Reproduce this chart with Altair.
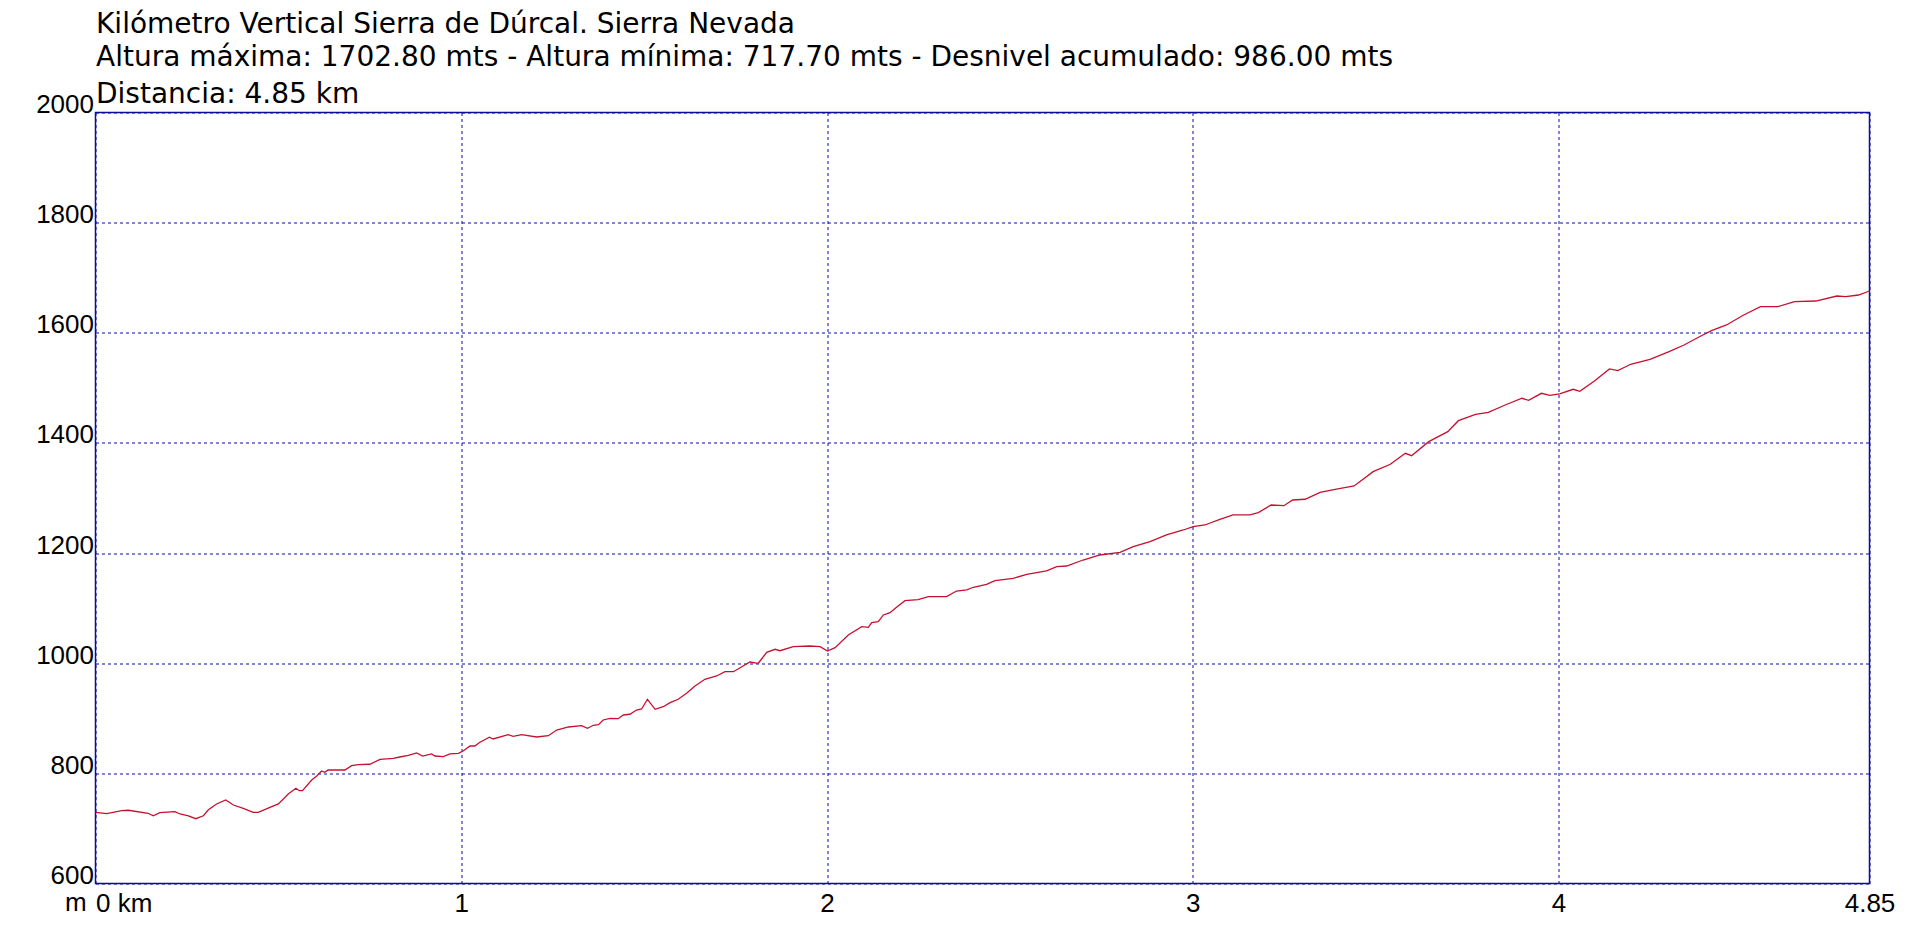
import altair as alt
import pandas as pd

TITLE_LINES = [
    "Kilómetro Vertical Sierra de Dúrcal. Sierra Nevada",
    "Altura máxima: 1702.80 mts - Altura mínima: 717.70 mts - Desnivel acumulado: 986.00 mts",
    "Distancia: 4.85 km",
]
Y_UNIT = "m"
X_TICKS = [0, 1, 2, 3, 4, 4.85]
Y_TICKS = [600, 800, 1000, 1200, 1400, 1600, 1800, 2000]

DIST_KM = [
    0.000, 0.031, 0.072, 0.090, 0.144, 0.158, 0.176, 0.217, 0.231, 0.254,
    0.274, 0.295, 0.308, 0.331, 0.356, 0.377, 0.404, 0.431, 0.445, 0.477,
    0.500, 0.527, 0.548, 0.557, 0.566, 0.591, 0.605, 0.618, 0.627, 0.636,
    0.682, 0.700, 0.718, 0.750, 0.778, 0.814, 0.832, 0.855, 0.878, 0.894,
    0.919, 0.928, 0.951, 0.969, 0.992, 1.005, 1.024, 1.037, 1.051, 1.077,
    1.087, 1.128, 1.142, 1.165, 1.206, 1.238, 1.261, 1.293, 1.329, 1.345,
    1.361, 1.375, 1.388, 1.407, 1.429, 1.443, 1.461, 1.479, 1.493, 1.509,
    1.530, 1.552, 1.571, 1.593, 1.616, 1.639, 1.666, 1.698, 1.721, 1.744,
    1.767, 1.789, 1.812, 1.835, 1.858, 1.871, 1.908, 1.953, 1.981, 2.001,
    2.022, 2.058, 2.095, 2.113, 2.122, 2.140, 2.154, 2.172, 2.190, 2.213,
    2.249, 2.277, 2.327, 2.354, 2.382, 2.400, 2.436, 2.459, 2.509, 2.546,
    2.600, 2.628, 2.655, 2.700, 2.746, 2.801, 2.837, 2.883, 2.928, 2.974,
    3.001, 3.033, 3.074, 3.110, 3.156, 3.179, 3.214, 3.249, 3.273, 3.307,
    3.348, 3.389, 3.441, 3.493, 3.540, 3.581, 3.598, 3.645, 3.697, 3.726,
    3.773, 3.808, 3.854, 3.900, 3.918, 3.953, 3.976, 4.003, 4.040, 4.058,
    4.098, 4.139, 4.162, 4.197, 4.250, 4.302, 4.343, 4.389, 4.418, 4.459,
    4.506, 4.552, 4.599, 4.645, 4.703, 4.761, 4.785, 4.820, 4.850,
]
ELEV_M = [
    729.3, 726.8, 732.2, 733.0, 727.5, 723.0, 728.6, 730.4, 726.2, 722.6,
    717.7, 723.0, 733.5, 744.4, 751.6, 742.5, 736.5, 729.3, 729.3, 738.4,
    744.4, 762.5, 772.9, 768.5, 768.5, 787.9, 795.2, 804.3, 801.9, 806.1,
    806.1, 813.9, 815.7, 816.5, 825.5, 827.3, 829.7, 832.8, 837.0, 831.5,
    835.2, 831.5, 830.3, 835.2, 836.4, 840.6, 849.7, 849.7, 856.4, 865.5,
    862.4, 870.2, 867.3, 870.2, 866.0, 868.4, 878.7, 884.2, 886.5, 881.8,
    887.3, 888.4, 896.9, 900.0, 899.3, 906.0, 907.3, 915.0, 916.9, 934.5,
    916.3, 921.0, 928.3, 934.5, 945.4, 958.6, 970.8, 976.8, 984.6, 984.6,
    993.7, 1002.2, 999.9, 1019.8, 1025.3, 1022.7, 1030.0, 1031.3, 1030.0, 1022.2,
    1028.2, 1051.2, 1066.3, 1065.2, 1073.6, 1075.4, 1087.6, 1091.7, 1101.5, 1113.5,
    1115.3, 1120.8, 1120.8, 1131.1, 1133.0, 1137.9, 1143.3, 1149.9, 1154.2, 1161.5,
    1167.5, 1175.3, 1176.5, 1187.4, 1196.5, 1201.4, 1211.6, 1220.7, 1232.9, 1241.9,
    1248.0, 1251.0, 1261.3, 1269.2, 1269.2, 1273.4, 1287.3, 1286.0, 1296.4, 1297.7,
    1310.3, 1315.8, 1321.8, 1347.8, 1361.2, 1381.2, 1376.8, 1402.3, 1420.4, 1440.4,
    1452.0, 1455.6, 1468.9, 1481.1, 1477.4, 1490.1, 1486.5, 1488.9, 1497.4, 1493.8,
    1512.5, 1534.3, 1531.2, 1542.8, 1551.9, 1565.7, 1577.8, 1594.2, 1603.8, 1614.2,
    1632.3, 1647.4, 1647.4, 1656.5, 1657.7, 1666.8, 1665.6, 1668.6, 1675.9,
]

FONT = "Liberation Sans"
TITLE_FONT = "DejaVu Sans"
GRID = "#0a0aa8"
BORDER = "#0c0c96"
LINE = "#c8102e"

df = pd.DataFrame({"dist": DIST_KM, "elev": ELEV_M})

x_axis = alt.Axis(
    values=X_TICKS,
    title=None,
    grid=True,
    gridColor=GRID,
    gridDash=[3, 3],
    gridWidth=1,
    gridOpacity=1,
    ticks=False,
    tickSize=0,
    domain=False,
    labelFlush=False,
    labelOverlap=False,
    labelFont=FONT,
    labelFontSize=26,
    labelColor="#000000",
    labelBaseline="top",
    labelPadding=7,
    labelAlign=alt.expr("datum.value == 0 ? 'left' : 'center'"),
    labelExpr="datum.value == 0 ? '0 km' : (datum.value == 4.85 ? '4.85' : format(datum.value, 'd'))",
)
y_axis = alt.Axis(
    values=Y_TICKS,
    title=None,
    grid=True,
    gridColor=GRID,
    gridDash=[3, 3],
    gridWidth=1,
    gridOpacity=1,
    ticks=False,
    tickSize=0,
    domain=False,
    labelOverlap=False,
    labelFlush=False,
    labelFont=FONT,
    labelFontSize=26,
    labelColor="#000000",
    labelAlign="right",
    labelBaseline="alphabetic",
    labelPadding=2,
    format="d",
)

line = alt.Chart(df).mark_line(color=LINE, strokeWidth=1.3).encode(
    x=alt.X("dist:Q", scale=alt.Scale(domain=[0, 4.85], nice=False, zero=False), axis=x_axis),
    y=alt.Y("elev:Q", scale=alt.Scale(domain=[600, 2000], nice=False, zero=False), axis=y_axis),
)

TITLE_Y = [-79.5, -46.5, -9.5]
layers = [line]
for txt, yy in zip(TITLE_LINES, TITLE_Y):
    layers.append(
        alt.Chart(pd.DataFrame({"t": [txt]}))
        .mark_text(font=TITLE_FONT, fontSize=28, align="left", baseline="alphabetic", color="#000000")
        .encode(text="t:N", x=alt.value(0.5), y=alt.value(yy))
    )
layers.append(
    alt.Chart(pd.DataFrame({"t": [Y_UNIT]}))
    .mark_text(font=FONT, fontSize=26, align="left", baseline="alphabetic", color="#000000")
    .encode(text="t:N", x=alt.value(-30.5), y=alt.value(798))
)

chart = (
    alt.layer(*layers)
    .properties(
        width=1774,
        height=771,
        autosize=alt.AutoSizeParams(type="none"),
        padding={"left": 87.5, "top": 104.5, "right": 30, "bottom": 40},
        background="#ffffff",
    )
    .configure_view(stroke=BORDER, strokeWidth=1.5)
)

chart.save("out.html", embed_options={"renderer": "svg", "actions": False})
